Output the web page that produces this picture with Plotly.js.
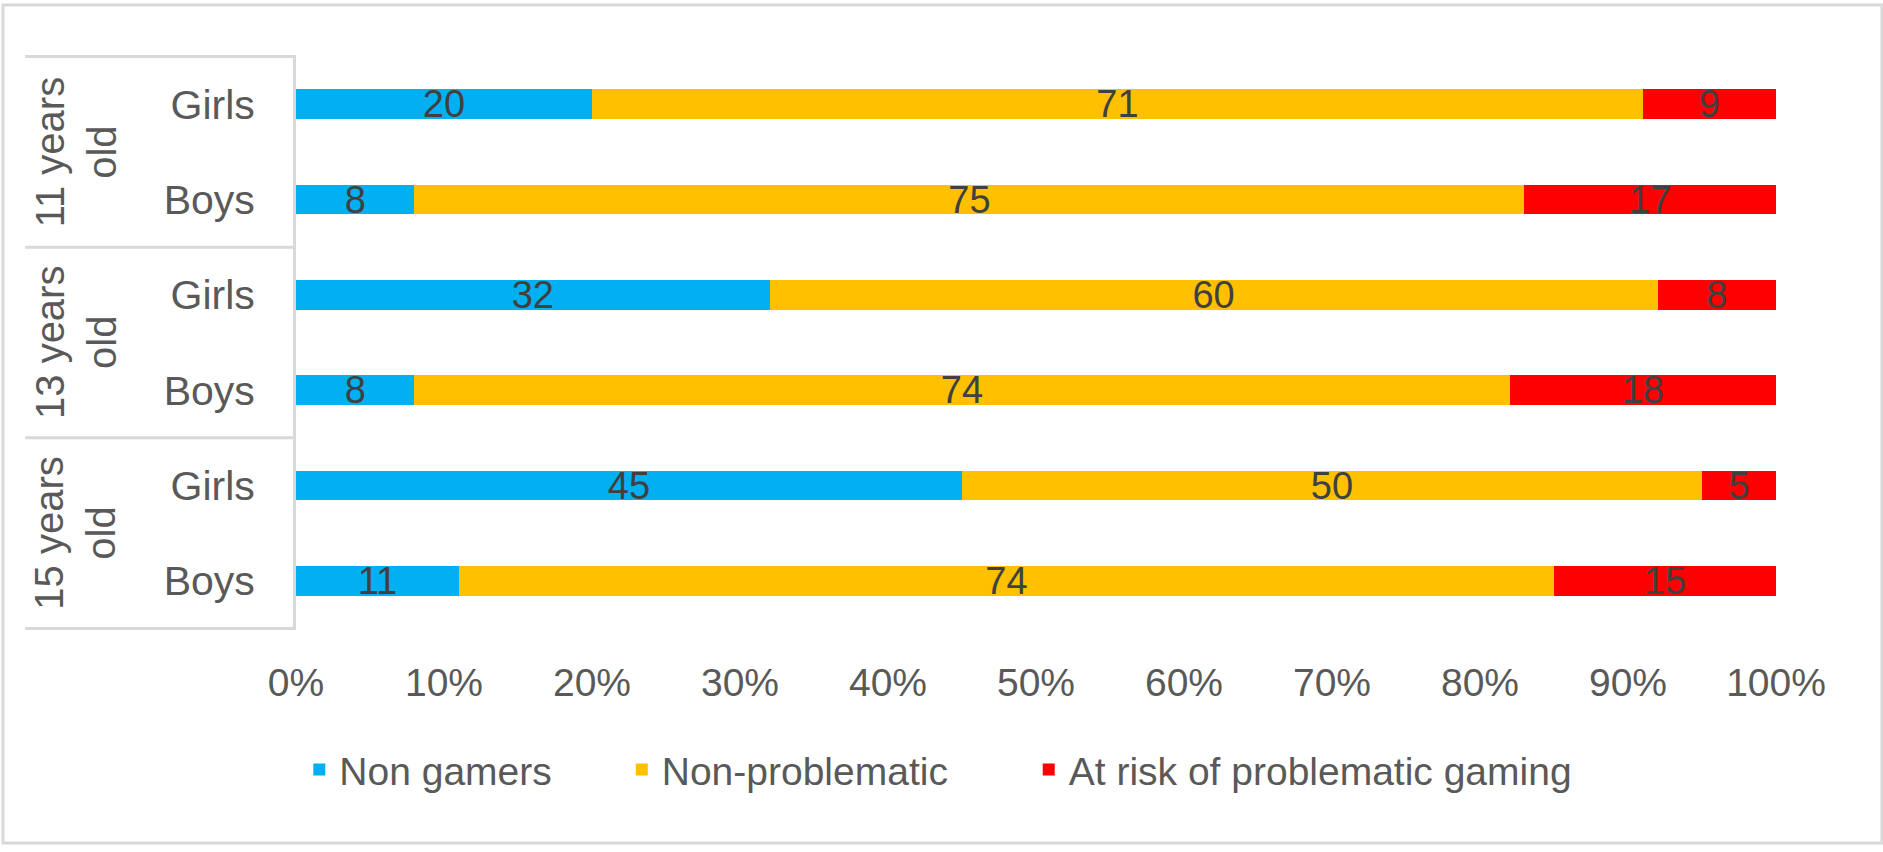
<!DOCTYPE html>
<html>
<head>
<meta charset="utf-8">
<script src="https://cdn.plot.ly/plotly-3.0.1.min.js"></script>
<style>
  html, body { margin: 0; padding: 0; background: #ffffff; }
  #chart { width: 1883px; height: 852px; }
</style>
</head>
<body>
<div id="chart"></div>
<script>
// ---- Data ----
const ageGroups = ["11 years old", "13 years old", "15 years old"];
const genders = ["Girls", "Boys"];
const seriesNames = ["Non gamers", "Non-problematic", "At risk of problematic gaming"];
// rows in order: 11 Girls, 11 Boys, 13 Girls, 13 Boys, 15 Girls, 15 Boys
const nonGamers = [20, 8, 32, 8, 45, 11];
const nonProblematic = [71, 75, 60, 74, 50, 74];
const atRisk = [9, 17, 8, 18, 5, 15];
const xTickValues = [0, 10, 20, 30, 40, 50, 60, 70, 80, 90, 100];

// ---- Build ----
const rowIds = [];
const rowLabels = [];
ageGroups.forEach(g => genders.forEach(s => { rowIds.push(g + " | " + s); rowLabels.push(s); }));

const colors = ["#00B0F0", "#FFC000", "#FF0000"];
const seriesValues = [nonGamers, nonProblematic, atRisk];
const labelFont = "Liberation Sans, Arial, sans-serif";
const pads = ["\u00a0\u00a0\u00a0\u00a0\u00a0\u00a0", "\u00a0\u00a0\u00a0\u00a0\u00a0\u00a0\u00a0", ""];

const traces = seriesValues.map((vals, i) => ({
  type: "bar",
  orientation: "h",
  name: seriesNames[i] + pads[i],
  y: rowIds,
  x: vals,
  text: vals.map(v => String(v)),
  texttemplate: "%{text}",
  textposition: "inside",
  insidetextanchor: "middle",
  textangle: 0,
  constraintext: "none",
  textfont: { family: labelFont, size: 38, color: "#404040" },
  marker: { color: colors[i], line: { width: 0 } },
  hoverinfo: "skip"
}));

const annotations = ageGroups.map((g, k) => {
  const parts = g.split(" ");
  return {
    xref: "paper", yref: "y",
    x: -0.149, y: 2 * k + 0.5,
    text: parts[0] + " " + parts[1] + "<br>" + parts.slice(2).join(" "),
    textangle: -90,
    showarrow: false,
    xanchor: "center", yanchor: "middle",
    font: { family: labelFont, size: 40, color: "#595959" }
  };
});

const lineColor = "#D9D9D9";
const shapes = [];
for (let k = 0; k <= ageGroups.length; k++) {
  shapes.push({
    type: "line", xref: "paper", yref: "y",
    x0: -0.183, x1: 0, y0: 2 * k - 0.5, y1: 2 * k - 0.5,
    line: { color: lineColor, width: 3 }
  });
}
// outer chart border
shapes.push({
  type: "rect", xref: "paper", yref: "paper",
  x0: -0.198, x1: 1.0716, y0: -0.3704, y1: 1.087,
  line: { color: lineColor, width: 3 }, fillcolor: "rgba(0,0,0,0)"
});

const layout = {
  width: 1883, height: 852,
  margin: { l: 296, r: 107, t: 55, b: 222, pad: 0 },
  paper_bgcolor: "#ffffff", plot_bgcolor: "#ffffff",
  barmode: "stack",
  bargap: 0.69,
  showlegend: true,
  legend: {
    orientation: "h",
    x: 0.434, xanchor: "center",
    y: -0.243, yanchor: "middle",
    font: { family: labelFont, size: 39, color: "#595959" },
    traceorder: "normal",
    bgcolor: "rgba(0,0,0,0)"
  },
  xaxis: {
    range: [0, 100],
    tickvals: xTickValues,
    ticktext: xTickValues.map(v => v + "%"),
    showgrid: false, zeroline: false, showline: false,
    ticks: "",
    ticklabelstandoff: 26,
    tickfont: { family: labelFont, size: 39, color: "#595959" },
    fixedrange: true
  },
  yaxis: {
    type: "category",
    categoryorder: "array",
    categoryarray: rowIds,
    tickvals: rowIds,
    ticktext: rowLabels,
    autorange: "reversed",
    showgrid: false, zeroline: false,
    showline: true, linecolor: lineColor, linewidth: 3,
    ticks: "",
    ticklabelstandoff: 30,
    tickfont: { family: labelFont, size: 41, color: "#595959" },
    fixedrange: true
  },
  annotations: annotations,
  shapes: shapes,
  font: { family: labelFont, color: "#595959" }
};

Plotly.newPlot("chart", traces, layout, { displayModeBar: false, staticPlot: true });
</script>
</body>
</html>
